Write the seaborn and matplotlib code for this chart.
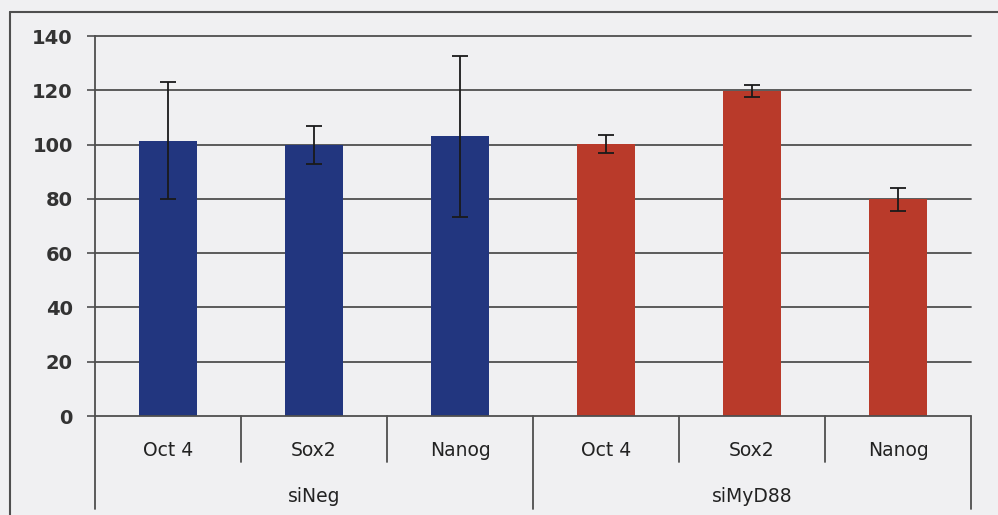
import matplotlib
matplotlib.use("Agg")
import matplotlib.pyplot as plt
from matplotlib.lines import Line2D
import matplotlib.transforms as mtransforms
import numpy as np
import pandas as pd
import seaborn as sns

# Relative expression (%) of pluripotency markers after siRNA knock-down
genes = ["Oct 4", "Sox2", "Nanog", "Oct 4", "Sox2", "Nanog"]
groups = ["siNeg", "siNeg", "siNeg", "siMyD88", "siMyD88", "siMyD88"]
values = [101.5, 100.0, 103.0, 100.2, 119.8, 79.8]
errors = [21.5, 7.0, 29.8, 3.3, 2.3, 4.3]
group_names = ["siNeg", "siMyD88"]
group_colors = ["#22367f", "#b93a2a"]
y_ticks = [0, 20, 40, 60, 80, 100, 120, 140]

bg = "#f0f0f2"
line_col = "#4f4f4f"

sns.set_style("white")
plt.rcParams["font.family"] = ["DejaVu Sans"]

df = pd.DataFrame({
    "slot": [f"{g}|{n}" for g, n in zip(groups, genes)],
    "gene": genes,
    "group": groups,
    "value": values,
})

fig = plt.figure(figsize=(9.98, 5.15), dpi=100, facecolor=bg)
ax = fig.add_axes([95 / 998, 99 / 515, 876 / 998, 380 / 515])
ax.set_facecolor(bg)

sns.barplot(data=df, x="slot", y="value", hue="group", hue_order=group_names,
            palette=group_colors, dodge=False, width=0.4, errorbar=None,
            saturation=1, legend=False, ax=ax, zorder=3, edgecolor="none")

xpos = np.arange(len(values))
ax.errorbar(xpos, values, yerr=errors, fmt="none", ecolor="#1a1a1a",
            elinewidth=1.3, capsize=6, capthick=1.3, zorder=4)

ax.set_xlim(-0.5, len(values) - 0.5)
ax.set_ylim(0, 140)
ax.set_yticks(y_ticks)
ax.set_yticklabels([str(t) for t in y_ticks], fontsize=14, fontweight="bold",
                   color="#333333")
ax.tick_params(axis="y", length=6, width=1.2, color=line_col, pad=10, left=True)
ax.set_xticks([])
ax.set_xlabel("")
ax.set_ylabel("")

for t in y_ticks[1:]:
    ax.axhline(t, color=line_col, linewidth=1.3, zorder=1, clip_on=False)

for side in ["top", "right", "bottom"]:
    ax.spines[side].set_visible(False)
ax.spines["left"].set_color(line_col)
ax.spines["left"].set_linewidth(1.3)
ax.axhline(0, color=line_col, linewidth=1.3, zorder=5, clip_on=False)

# category divider lines beneath the axis
trans = mtransforms.blended_transform_factory(ax.transData, ax.transAxes)
for b in np.arange(-0.5, len(values), 1.0):
    long = b in (-0.5, 2.5, len(values) - 0.5)
    ax.plot([b, b], [0, -0.245 if long else -0.121], color=line_col,
            linewidth=1.3, transform=trans, clip_on=False)

for x, g in zip(xpos, genes):
    ax.text(x, -0.09, g, transform=trans, ha="center", va="center",
            fontsize=13.5, color="#222222")

for i, g in enumerate(group_names):
    ax.text(1 + 3 * i, -0.213, g, transform=trans, ha="center", va="center",
            fontsize=13.5, color="#222222")

# outer chart frame
fig.add_artist(Line2D([10 / 998, 10 / 998], [0, 1 - 12 / 515], color=line_col,
                      linewidth=1.5, transform=fig.transFigure))
fig.add_artist(Line2D([10 / 998, 1], [1 - 12 / 515, 1 - 12 / 515], color=line_col,
                      linewidth=1.5, transform=fig.transFigure))

fig.savefig("out.png", dpi=100, facecolor=bg)
